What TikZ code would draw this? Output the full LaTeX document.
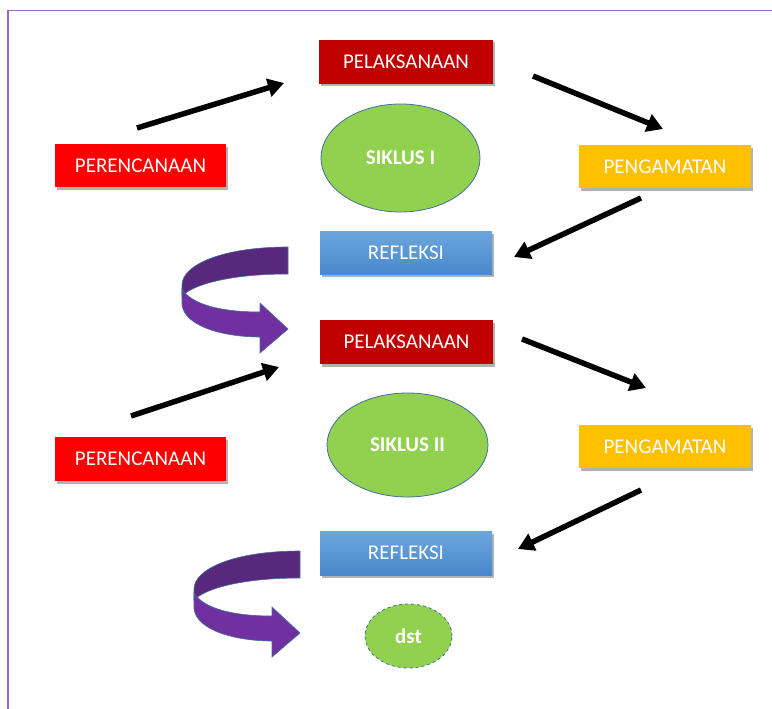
\documentclass[tikz,border=0pt]{standalone}
\usepackage{fontspec}
\setmainfont{Carlito}
\usetikzlibrary{arrows.meta,shapes.geometric,shadows}
\definecolor{darkred}{RGB}{192,0,0}
\definecolor{brightred}{RGB}{255,0,0}
\definecolor{gold}{RGB}{255,192,0}
\definecolor{grn}{RGB}{146,208,80}
\definecolor{edgeblue}{RGB}{65,113,156}
\definecolor{reftop}{RGB}{108,166,222}
\definecolor{refbot}{RGB}{72,136,204}
\definecolor{purpdark}{RGB}{88,40,125}
\definecolor{purplight}{RGB}{112,48,160}
\definecolor{frame}{RGB}{150,105,200}
\tikzset{
  lbl/.style={font=\fontsize{21}{24}\selectfont, text=white},
  boxnode/.style={rectangle, inner sep=0pt, minimum width=172pt, minimum height=44pt,
     lbl, drop shadow={shadow xshift=1.5pt, shadow yshift=-2.5pt, opacity=0.3, fill=black}},
  cyc/.style={ellipse, inner sep=0pt, fill=grn, draw=edgeblue, line width=0.8pt,
     font=\fontsize{21}{24}\selectfont\bfseries, text=white},
  blk/.style={line width=5.5pt, -{Triangle[length=16pt,width=18pt]}},
  pics/uturn/.style={code={
    \fill[purpdark, draw=edgeblue, line width=0.6pt]
      (0,-82) .. controls (-66,-82) and (-106,-64) .. (-106,-44)
      -- (-106,-33) .. controls (-93,-46) and (-53,-55) .. (0,-55) -- cycle;
    \fill[purplight, draw=edgeblue, line width=0.6pt]
      (-106,-40) -- (-106,-24) .. controls (-103,-2) and (-63,8) .. (-28,8)
      -- (-28,24) -- (0,0) -- (-28,-26) -- (-28,-17)
      .. controls (-66,-17) and (-96,-24) .. (-106,-40) -- cycle;
  }}
}
\begin{document}
\begin{tikzpicture}[x=1pt,y=-1pt]
\useasboundingbox (0,0) rectangle (772,709);
\clip (0,0) rectangle (772,709);
\fill[white] (0,0) rectangle (772,709);
\draw[frame, line width=1.6pt] (8,10.5) rectangle (800,760);

% cycle I
\node[boxnode, fill=darkred, minimum width=174pt] (pel1) at (406,62) {PELAKSANAAN};
\node[boxnode, fill=brightred, minimum width=171pt, minimum height=43pt] (ren1) at (140.5,165.5) {PERENCANAAN};
\node[boxnode, fill=gold, minimum height=43pt] (ama1) at (665,166.5) {PENGAMATAN};
\node[boxnode, top color=reftop, bottom color=refbot, minimum height=43pt] (ref1) at (406,252.5) {REFLEKSI};
\node[cyc, minimum width=159pt, minimum height=108pt] (sik1) at (400.5,158) {SIKLUS I};

% cycle II
\node[boxnode, fill=darkred, minimum width=173pt] (pel2) at (406.5,342) {PELAKSANAAN};
\node[boxnode, fill=brightred, minimum width=171pt] (ren2) at (140.5,459) {PERENCANAAN};
\node[boxnode, fill=gold, minimum height=43pt] (ama2) at (665,446.5) {PENGAMATAN};
\node[boxnode, top color=reftop, bottom color=refbot] (ref2) at (406,553) {REFLEKSI};
\node[cyc, minimum width=161pt, minimum height=104pt] (sik2) at (407.5,445) {SIKLUS II};
\node[cyc, dashed, minimum width=87pt, minimum height=64pt] (dst) at (408.5,636) {dst};

% arrow end points
\coordinate (a1s) at (137,128);  \coordinate (a1e) at (284,83);
\coordinate (a2s) at (533,76);   \coordinate (a2e) at (663,129);
\coordinate (a3s) at (641,198);  \coordinate (a3e) at (514,257);
\coordinate (a4s) at (131,416);  \coordinate (a4e) at (279,367);
\coordinate (a5s) at (522,339);  \coordinate (a5e) at (646,388);
\coordinate (a6s) at (641,490);  \coordinate (a6e) at (518,549);
\draw[blk] (a1s) -- (a1e);
\draw[blk] (a2s) -- (a2e);
\draw[blk] (a3s) -- (a3e);
\draw[blk] (a4s) -- (a4e);
\draw[blk] (a5s) -- (a5e);
\draw[blk] (a6s) -- (a6e);

% curved purple arrows
\pic at (288,329) {uturn};
\pic at (300,633) {uturn};
\end{tikzpicture}
\end{document}
